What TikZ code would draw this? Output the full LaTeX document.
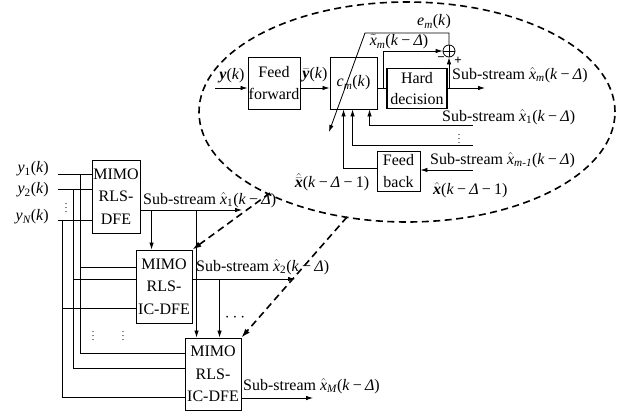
\documentclass[tikz,border=0pt]{standalone}
\usepackage{fontspec}
\setmainfont{Liberation Serif}
\usetikzlibrary{arrows.meta,calc}
% symbols used in the labels
\newcommand{\hx}{\ensuremath{\hat{\mbox{\itshape x}}}}
\newcommand{\mns}{\hspace{0.2em}−\hspace{0.2em}}
\newcommand{\kd}{(\textit{k}\mns\textit{Δ})}
\newcommand{\kdo}{(\textit{k}\mns\textit{Δ}\mns1)}
\newcommand{\sub}[1]{\textsubscript{\itshape #1}}
\begin{document}
\begin{tikzpicture}[x=1pt,y=-1pt,
  font=\fontsize{16}{18}\selectfont,
  box/.style={draw, line width=0.9pt, inner sep=0pt, align=center, font=\fontsize{16}{21.5}\selectfont},
  mbox/.style={box, font=\fontsize{16}{22.5}\selectfont},
  ln/.style={line width=0.8pt},
  arr/.style={ln, -{Latex[length=7pt,width=4.5pt]}},
  dsh/.style={line width=1.6pt, dash pattern=on 7pt off 4.5pt},
  darr/.style={dsh, -{Latex[length=9pt,width=6pt]}},
  lbl/.style={inner sep=0pt}]

\useasboundingbox (0,0) rectangle (620,412);

% ---------- detail view of one IC-DFE stage ----------
\draw[dsh] (407,112) ellipse [x radius=208pt, y radius=110pt];

\node[box, minimum width=52pt, minimum height=52pt] (ff) at (274,83) {Feed\\forward};
\node[box, minimum width=47pt, minimum height=52pt] (cm) at (353.5,83)
  {\textit{c}\sub{m}(\textit{k})};
\node[box, line width=1.4pt, minimum width=60pt, minimum height=40pt] (hd) at (417,88.5) {Hard\\decision};
\node[draw, ln, circle, minimum size=12pt, inner sep=0pt] (sum) at (449,51) {};
\draw[ln] (sum.north) -- (sum.south) (sum.west) -- (sum.east);
\node[box, minimum width=43pt, minimum height=40pt] (fb) at (398.5,171) {Feed\\back};

\coordinate (yin) at (215,88);
\coordinate (br) at (383,88);
\coordinate (out) at (485,88);
\coordinate (etop) at (365,33);
\coordinate (etip) at (329,132);
\coordinate (s1) at (473,125);
\coordinate (s2) at (473,145);
\coordinate (s3) at (473,170);
\coordinate (fbo) at ($(fb.west)+(0,-3)$);
\coordinate (cin1) at ($(cm.south west)+(40,0)$);
\coordinate (cin2) at ($(cm.south west)+(23,0)$);
\coordinate (cin3) at ($(cm.south west)+(14,0)$);

\draw[arr] (yin) -- (yin -| ff.west);
\draw[arr] (ff.east |- yin) -- (cm.west |- yin);
\draw[ln] (cm.east |- yin) -- (hd.west |- yin);
\draw[arr] (br) |- (sum.west);
\draw[arr] (hd.east |- yin) -- (out);
\draw[arr] (sum.south |- yin) -- (sum.south);
\draw[arr] (sum.north) |- (etop) -- (etip);
\draw[arr] (s1) -| (cin1);
\draw[arr] (s2) -| (cin2);
\draw[arr] (s3) -- (s3 -| fb.east);
\draw[arr] (fbo) -| (cin3);

\node[lbl] (ylab) at (232,76) {\textbf{\textit{y}}(\textit{k})};
\node[lbl] (yblab) at (315,75) {$\bar{\mbox{\bfseries\itshape y}}$(\textit{k})};
\node[lbl] (xtl) at (399,42) {$\tilde{\mbox{\itshape x}}$\sub{m}\kd};
\node[lbl] (eml) at (434,22) {\textit{e}\sub{m}(\textit{k})};
\node[lbl, font=\fontsize{13}{13}\selectfont\bfseries] (mnsg) at (441,59) {−};
\node[lbl, font=\fontsize{13}{13}\selectfont\bfseries] (plsg) at (458,61) {+};
\node[lbl, anchor=west] (xml) at (452,75) {Sub-stream \hx\sub{m}\kd};
\node[lbl, anchor=west] (x1l) at (442,117) {Sub-stream \hx\textsubscript{1}\kd};
\node[lbl, font=\fontsize{10}{10}\selectfont] (vd1) at (459,136) {\vdots};
\node[lbl, anchor=west] (xm1l) at (430,160) {Sub-stream \hx\sub{m-1}\kd};
\node[lbl, anchor=west] (xbl) at (433,190) {$\hat{\mbox{\bfseries\itshape x}}$\kdo};
\node[lbl] (xbbl) at (332,182) {$\hat{\bar{\mbox{\bfseries\itshape x}}}$\kdo};

% ---------- cascade of MIMO stages ----------
\node[mbox, minimum width=48pt, minimum height=73pt] (b1) at (116,196.5) {MIMO\\RLS-\\DFE};
\node[mbox, minimum width=56pt, minimum height=73pt] (b2) at (164,286.5) {MIMO\\RLS-\\IC-DFE};
\node[mbox, minimum width=56pt, minimum height=72pt] (b3) at (213,374) {MIMO\\RLS-\\IC-DFE};

\coordinate (i1) at (58,174);
\coordinate (i2) at (58,189);
\coordinate (iN) at (58,220);
\coordinate (v1) at (80,174);
\coordinate (v2) at (73,189);
\coordinate (vN) at (62,220);
\coordinate (b2a) at ($(b2.west)+(0,-19.5)$);
\coordinate (b2b) at ($(b2.west)+(0,-7.5)$);
\coordinate (b2c) at ($(b2.west)+(0,21.5)$);
\coordinate (b3a) at ($(b3.west)+(0,-21)$);
\coordinate (b3b) at ($(b3.west)+(0,-6)$);
\coordinate (b3c) at ($(b3.west)+(0,23)$);

\draw[ln] (i1) -- (i1 -| b1.west);
\draw[ln] (i2) -- (i2 -| b1.west);
\draw[ln] (iN) -- (iN -| b1.west);
\draw[ln] (v1) |- (b3a);
\draw[ln] (v2) |- (b3b);
\draw[ln] (vN) |- (b3c);
\draw[ln] (v1 |- b2a) -- (b2a);
\draw[ln] (v2 |- b2b) -- (b2b);
\draw[ln] (vN |- b2c) -- (b2c);

\node[lbl, anchor=east] (y1l) at (49,169) {\textit{y}\textsubscript{1}(\textit{k})};
\node[lbl, anchor=east] (y2l) at (49,190) {\textit{y}\textsubscript{2}(\textit{k})};
\node[lbl, anchor=east] (yNl) at (49,217) {\textit{y}\sub{N}(\textit{k})};
\node[lbl, font=\fontsize{10}{10}\selectfont] (vd2) at (66,205) {\vdots};
\node[lbl, font=\fontsize{10}{10}\selectfont] (vd3) at (93,333) {\vdots};
\node[lbl, font=\fontsize{10}{10}\selectfont] (vd4) at (123,333) {\vdots};
\node[lbl] (hd1) at (235,318) {$\cdots$};

\coordinate (o1) at ($(b1.east)+(0,13.5)$);
\coordinate (o1e) at (242,210);
\coordinate (o2) at ($(b2.east)+(0,-7.5)$);
\coordinate (o2e) at (295,279);
\coordinate (o3) at ($(b3.east)+(0,24)$);
\coordinate (o3e) at (313,398);
\coordinate (d12) at ($(b2.north west)+(16,0)$);
\coordinate (d13) at ($(b3.north west)+(12,0)$);
\coordinate (d23) at ($(b3.north west)+(35,0)$);

\draw[arr] (o1) -- (o1e);
\draw[arr] (o2) -- (o2e);
\draw[arr] (o3) -- (o3e);
\draw[arr] (d12 |- o1) -- (d12);
\draw[arr] (d13 |- o1) -- (d13);
\draw[arr] (d23 |- o2) -- (d23);

\node[lbl, anchor=west] (o1l) at (143,200) {Sub-stream \hx\textsubscript{1}\kd};
\node[lbl, anchor=west] (o2l) at (196,267) {Sub-stream \hx\textsubscript{2}\kd};
\node[lbl, anchor=west] (o3l) at (243,386) {Sub-stream \hx\sub{M}\kd};

% links from the detail view to the stages
\coordinate (e1) at (270,193);
\coordinate (e2) at (347,217);
\draw[darr] (e1) -- (b2.north east);
\draw[darr] (e2) -- (b3.north east);
\end{tikzpicture}
\end{document}
